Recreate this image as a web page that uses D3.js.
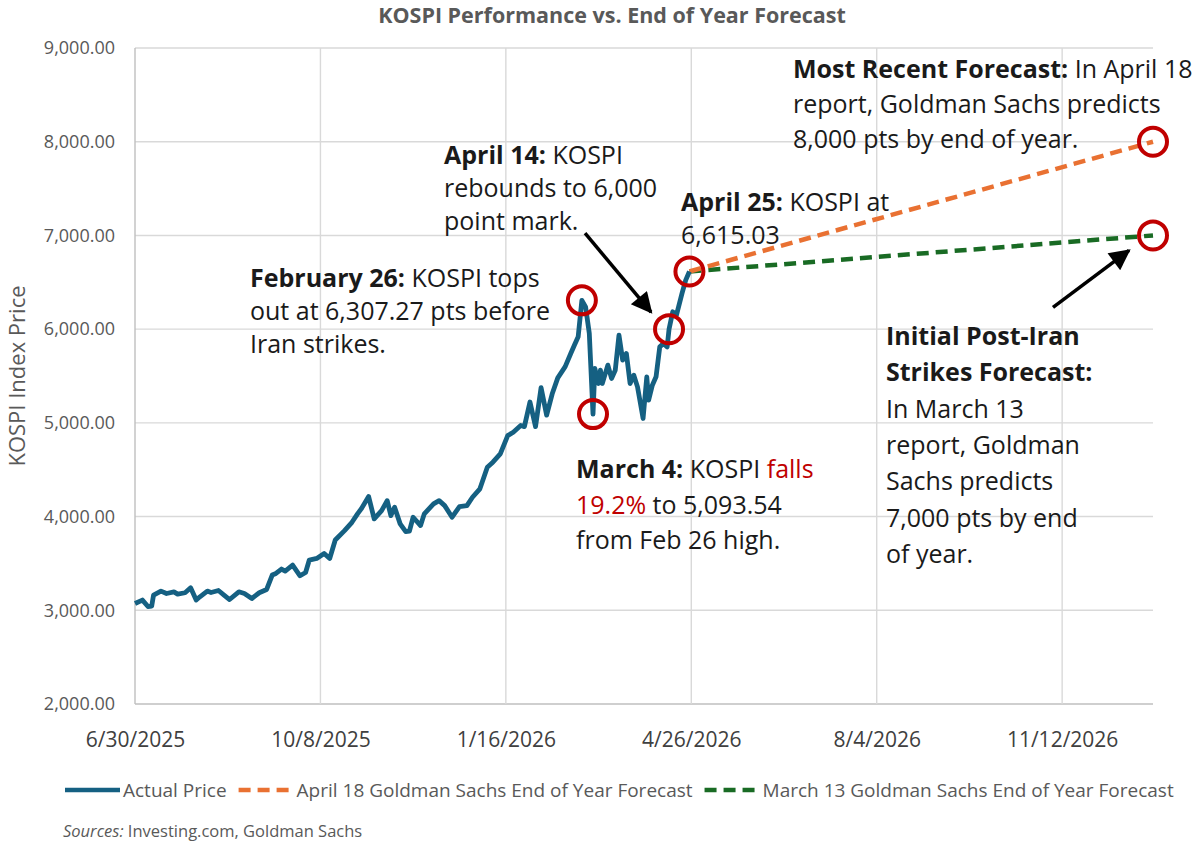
<!DOCTYPE html>
<html>
<head>
<meta charset="utf-8">
<script src="https://cdn.jsdelivr.net/npm/d3@7"></script>
<style>
  body { margin: 0; background: #fff; }
  svg text { font-family: "Open Sans", Lato, sans-serif; }
</style>
</head>
<body>
<div id="chart"></div>
<script>
// KOSPI actual price vs Goldman Sachs year-end forecasts

var priceDates = ["2025-06-30","2025-07-04","2025-07-07","2025-07-09","2025-07-10","2025-07-14","2025-07-17","2025-07-21","2025-07-23","2025-07-27",
  "2025-07-30","2025-08-02","2025-08-04","2025-08-08","2025-08-10","2025-08-14","2025-08-17","2025-08-20","2025-08-25","2025-08-28",
  "2025-09-01","2025-09-05","2025-09-09","2025-09-12","2025-09-14","2025-09-17","2025-09-19","2025-09-23","2025-09-27","2025-09-30",
  "2025-10-02","2025-10-06","2025-10-10","2025-10-13","2025-10-16","2025-10-21","2025-10-25","2025-10-28","2025-10-30","2025-11-03",
  "2025-11-06","2025-11-10","2025-11-13","2025-11-15","2025-11-17","2025-11-20","2025-11-23","2025-11-25","2025-11-27","2025-12-01",
  "2025-12-03","2025-12-08","2025-12-11","2025-12-14","2025-12-18","2025-12-22","2025-12-26","2025-12-29","2026-01-02","2026-01-06",
  "2026-01-09","2026-01-13","2026-01-17","2026-01-20","2026-01-24","2026-01-26","2026-01-29","2026-02-01","2026-02-04","2026-02-07",
  "2026-02-10","2026-02-13","2026-02-17","2026-02-20","2026-02-22","2026-02-24","2026-02-26","2026-02-28","2026-03-02","2026-03-04",
  "2026-03-05","2026-03-07","2026-03-08","2026-03-09","2026-03-12","2026-03-14","2026-03-16","2026-03-18","2026-03-20","2026-03-22",
  "2026-03-24","2026-03-26","2026-03-28","2026-03-31","2026-04-02","2026-04-03","2026-04-05","2026-04-07","2026-04-09","2026-04-11",
  "2026-04-13","2026-04-14","2026-04-16","2026-04-18","2026-04-21","2026-04-23","2026-04-25"];

var priceValues = [3072,3109,3040,3045,3162,3205,3179,3197,3173,3187,
  3240,3109,3144,3205,3190,3211,3162,3115,3197,3179,
  3126,3187,3222,3376,3393,3440,3419,3482,3368,3403,
  3536,3553,3606,3553,3750,3850,3939,4029,4082,4213,
  3975,4064,4170,4010,4100,3922,3840,3845,3993,3904,
  4029,4135,4170,4117,3993,4107,4117,4206,4296,4526,
  4580,4669,4864,4900,4972,4960,5222,4960,5375,5082,
  5310,5480,5600,5740,5830,5918,6307.27,6238,5954,5093.54,
  5580,5420,5562,5420,5616,5474,5562,5936,5669,5740,
  5420,5509,5384,5047,5491,5242,5402,5491,5811,5847,
  5811,6000,6185,6149,6381,6523,6615.03];

var forecastDates = ["2026-04-25","2026-12-31"];
var april18Forecast = [6615.03, 8000];
var march13Forecast = [6615.03, 7000];

var xTickDates = ["2025-06-30","2025-10-08","2026-01-16","2026-04-26","2026-08-04","2026-11-12"];
var yTickValues = [2000,3000,4000,5000,6000,7000,8000,9000];

var seriesNames = ["Actual Price","April 18 Goldman Sachs End of Year Forecast","March 13 Goldman Sachs End of Year Forecast"];
var seriesColors = ["#156082","#E97132","#196B24"];

// circled points: [date, value]
var highlights = [["2026-02-26",6307.27],["2026-03-04",5093.54],["2026-04-14",6000],["2026-04-25",6615.03],
  ["2026-12-31",8000],["2026-12-31",7000]];

var parse = d3.timeParse("%Y-%m-%d");

var width = 1198, height = 846;
var plotLeft = 135, plotRight = 1153, plotTop = 48, plotBottom = 704;

var svg = d3.select("#chart").append("svg")
    .attr("width", width)
    .attr("height", height);

var x = d3.scaleTime()
    .domain([parse("2025-06-30"), parse("2026-12-31")])
    .range([plotLeft, plotRight]);

var y = d3.scaleLinear()
    .domain([2000, 9000])
    .range([plotBottom, plotTop]);

// gridlines
svg.append("g")
  .selectAll("line")
  .data(yTickValues)
  .enter().append("line")
    .attr("x1", plotLeft).attr("x2", plotRight)
    .attr("y1", function(d) { return y(d); })
    .attr("y2", function(d) { return y(d); })
    .attr("stroke", function(d) { return d == 2000 ? "#bfbfbf" : "#d9d9d9"; })
    .attr("stroke-width", 1.4);

svg.append("g")
  .selectAll("line")
  .data(xTickDates)
  .enter().append("line")
    .attr("x1", function(d) { return x(parse(d)); })
    .attr("x2", function(d) { return x(parse(d)); })
    .attr("y1", plotTop).attr("y2", plotBottom)
    .attr("stroke", function(d, i) { return i == 0 ? "#bfbfbf" : "#d9d9d9"; })
    .attr("stroke-width", 1.4);

// axes (labels only, lines drawn as gridlines)
var yAxis = svg.append("g")
    .attr("transform", "translate(" + plotLeft + ",0)")
    .call(d3.axisLeft(y).tickValues(yTickValues).tickFormat(d3.format(",.2f")).tickSize(0).tickPadding(20));
yAxis.select(".domain").remove();
yAxis.selectAll("text").attr("font-size", 18).attr("fill", "#595959")
    .attr("font-family", "Lato, sans-serif");

var xAxis = svg.append("g")
    .attr("transform", "translate(0," + plotBottom + ")")
    .call(d3.axisBottom(x).tickValues(xTickDates.map(parse)).tickFormat(d3.timeFormat("%-m/%-d/%Y")).tickSize(0).tickPadding(28));
xAxis.select(".domain").remove();
xAxis.selectAll("text").attr("font-size", 21).attr("fill", "#404040")
    .attr("font-family", "Lato, sans-serif");

svg.append("text")
    .attr("transform", "translate(25," + ((plotTop + plotBottom) / 2) + ") rotate(-90)")
    .attr("text-anchor", "middle")
    .attr("font-size", 22)
    .attr("fill", "#595959")
    .text("KOSPI Index Price");

svg.append("text")
    .attr("x", 612)
    .attr("y", 23)
    .attr("text-anchor", "middle")
    .attr("font-size", 21.5)
    .attr("font-weight", "bold")
    .attr("fill", "#595959")
    .text("KOSPI Performance vs. End of Year Forecast");

// series
var line = d3.line()
    .x(function(d) { return x(d[0]); })
    .y(function(d) { return y(d[1]); });

var actual = priceDates.map(function(d, i) { return [parse(d), priceValues[i]]; });
var fc1 = forecastDates.map(function(d, i) { return [parse(d), april18Forecast[i]]; });
var fc2 = forecastDates.map(function(d, i) { return [parse(d), march13Forecast[i]]; });

svg.append("path").datum(fc2)
    .attr("d", line).attr("fill", "none")
    .attr("stroke", seriesColors[2]).attr("stroke-width", 4.5)
    .attr("stroke-dasharray", "12,7");

svg.append("path").datum(fc1)
    .attr("d", line).attr("fill", "none")
    .attr("stroke", seriesColors[1]).attr("stroke-width", 4.5)
    .attr("stroke-dasharray", "12,7");

svg.append("path").datum(actual)
    .attr("d", line).attr("fill", "none")
    .attr("stroke", seriesColors[0]).attr("stroke-width", 4.8)
    .attr("stroke-linejoin", "round");

// red circles
svg.append("g")
  .selectAll("circle")
  .data(highlights)
  .enter().append("circle")
    .attr("cx", function(d) { return x(parse(d[0])); })
    .attr("cy", function(d) { return y(d[1]); })
    .attr("r", 14)
    .attr("fill", "none")
    .attr("stroke", "#C00000")
    .attr("stroke-width", 4);

// arrows
svg.append("defs").append("marker")
    .attr("id", "head")
    .attr("viewBox", "0 0 10 10")
    .attr("refX", 9).attr("refY", 5)
    .attr("markerWidth", 6.5).attr("markerHeight", 6)
    .attr("markerUnits", "strokeWidth")
    .attr("orient", "auto")
  .append("path")
    .attr("d", "M0,0L10,5L0,10z")
    .attr("fill", "#000");

function arrow(d, v, dx1, dy1, dx2, dy2) {
  var cx = x(parse(d)), cy = y(v);
  svg.append("line")
    .attr("x1", cx + dx1).attr("y1", cy + dy1)
    .attr("x2", cx + dx2).attr("y2", cy + dy2)
    .attr("stroke", "#000").attr("stroke-width", 3.5)
    .attr("marker-end", "url(#head)");
}
arrow("2026-04-14", 6000, -84, -96, -18, -17);
arrow("2026-12-31", 7000, -100, 72, -24, 15);

// annotations
var notes = [
  {x: 250, y: 287, lh: 33, lines: [[["February 26:", 1], [" KOSPI tops"]], [["out at 6,307.27 pts before"]], [["Iran strikes."]]]},
  {x: 444, y: 164, lh: 33, lines: [[["April 14:", 1], [" KOSPI"]], [["rebounds to 6,000"]], [["point mark."]]]},
  {x: 681, y: 211, lh: 33, lines: [[["April 25:", 1], [" KOSPI at"]], [["6,615.03"]]]},
  {x: 793, y: 78, lh: 35, lines: [[["Most Recent Forecast:", 1], [" In April 18"]], [["report, Goldman Sachs predicts"]], [["8,000 pts by end of year."]]]},
  {x: 576, y: 478, lh: 35.5, lines: [[["March 4:", 1], [" KOSPI "], ["falls", 0, "#C00000"]], [["19.2%", 0, "#C00000"], [" to 5,093.54"]], [["from Feb 26 high."]]]},
  {x: 886, y: 345, lh: 36.3, lines: [[["Initial Post-Iran", 1]], [["Strikes Forecast:", 1]], [["In March 13"]], [["report, Goldman"]],
    [["Sachs predicts"]], [["7,000 pts by end"]], [["of year."]]]}
];

notes.forEach(function(n) {
  var t = svg.append("text")
      .attr("font-size", 25)
      .attr("fill", "#1a1a1a");
  n.lines.forEach(function(l, i) {
    l.forEach(function(seg, j) {
      var s = t.append("tspan").text(seg[0]);
      if (j == 0) s.attr("x", n.x).attr("y", n.y + i * n.lh);
      if (seg[1]) s.attr("font-weight", "bold");
      if (seg[2]) s.attr("fill", seg[2]);
    });
  });
});

// legend
var legend = svg.append("g").attr("transform", "translate(0,790)");
var lx = 65;
seriesNames.forEach(function(name, i) {
  legend.append("line")
    .attr("x1", lx).attr("x2", lx + 55)
    .attr("y1", 0).attr("y2", 0)
    .attr("stroke", seriesColors[i]).attr("stroke-width", 4.5)
    .attr("stroke-dasharray", i == 0 ? null : "12,7");
  var t = legend.append("text")
    .attr("x", lx + 58).attr("y", 6.5)
    .attr("font-size", 19)
    .attr("fill", "#595959")
    .text(name);
  lx += 58 + t.node().getComputedTextLength() + 12;
});

var src = svg.append("text")
    .attr("x", 63).attr("y", 837)
    .attr("font-size", 16.5)
    .attr("fill", "#595959");
src.append("tspan").attr("font-style", "italic").text("Sources:");
src.append("tspan").text(" Investing.com, Goldman Sachs");
</script>
</body>
</html>
